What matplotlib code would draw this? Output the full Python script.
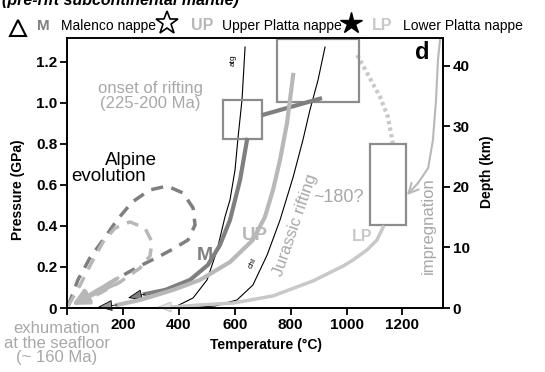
import numpy as np
import matplotlib.pyplot as plt

plt.rcParams['font.family'] = ['Liberation Sans', 'DejaVu Sans']

# P-T paths, temperature in degC, pressure in GPa
atg_T = [379, 451, 501, 537, 565, 583, 601, 612, 626, 637]
atg_P = [0.0, 0.049, 0.137, 0.283, 0.444, 0.527, 0.673, 0.834, 1.015, 1.273]
chl_T = [422, 530, 608, 665, 716, 762, 809, 844, 869, 898, 923]
chl_P = [0.0, 0.01, 0.039, 0.112, 0.259, 0.429, 0.639, 0.820, 0.966, 1.112, 1.273]

m_link_T = [912, 698]
m_link_P = [1.024, 0.941]
m_T = [644, 619, 583, 547, 504, 440, 351, 279, 218]
m_P = [0.820, 0.624, 0.429, 0.307, 0.210, 0.137, 0.088, 0.068, 0.049]

up_T = [809, 787, 762, 737, 708, 665, 583, 476, 379, 261, 179, 111]
up_P = [1.137, 0.902, 0.722, 0.576, 0.444, 0.332, 0.224, 0.137, 0.088, 0.039, 0.015, 0.005]

lp_T = [1131, 1109, 1073, 1023, 988, 880, 737, 594, 476, 379, 322]
lp_P = [0.395, 0.332, 0.283, 0.234, 0.205, 0.132, 0.059, 0.024, 0.015, 0.005, 0.005]

dot_T = [1038, 1077, 1120, 1148, 1166]
dot_P = [1.234, 1.137, 1.029, 0.932, 0.800]

imp_T = [1335, 1327, 1320, 1309, 1292, 1256, 1216]
imp_P = [1.317, 1.21, 1.015, 0.820, 0.683, 0.610, 0.551]

alp1_T = [4, 39, 82, 129, 179, 233, 297, 358, 415, 451, 458, 433, 386, 333, 261, 182, 100, 18]
alp1_P = [0.010, 0.137, 0.244, 0.332, 0.429, 0.517, 0.576, 0.595, 0.561, 0.488, 0.405,
          0.332, 0.293, 0.254, 0.205, 0.146, 0.078, 0.015]
alp2_T = [4, 47, 89, 129, 172, 225, 279, 304, 297, 261, 190, 100, 18]
alp2_P = [0.010, 0.112, 0.224, 0.322, 0.390, 0.420, 0.390, 0.322, 0.254, 0.195, 0.127, 0.059, 0.015]

# boxes: (Tmin, Pmin, Tmax, Pmax)
boxes = [(558, 0.824, 698, 1.015), (751, 1.005, 1045, 1.312), (1084, 0.405, 1213, 0.80)]

xticks = [0, 200, 400, 600, 800, 1000, 1200]
xticklabels = ['', '200', '400', '600', '800', '1000', '1200']
yticks = [0, 0.2, 0.4, 0.6, 0.8, 1.0, 1.2]
yticklabels = ['0', '0.2', '0.4', '0.6', '0.8', '1.0', '1.2']
dticks = [0, 10, 20, 30, 40]

P_top = 1.317
D_top = 44.6

dark = '#7f7f7f'
light = '#b8b8b8'
lighter = '#c8c8c8'
txtgray = '#a8a8a8'

fig = plt.figure(figsize=(5.45, 3.72), dpi=100)
ax = fig.add_axes([67/545, 64/372, 376/545, 270/372])
ax.set_xlim(0, 1345)
ax.set_ylim(0, P_top)

# reaction curves
ax.plot(atg_T, atg_P, color='k', lw=0.8, zorder=4)
ax.plot(chl_T, chl_P, color='k', lw=0.8, zorder=4)
ax.text(594, 1.21, 'atg', rotation=90, fontsize=6, ha='center', va='center')
ax.text(665, 0.22, 'chl', rotation=65, fontsize=6, ha='center', va='center')

# boxes
for t0, p0, t1, p1 in boxes:
    ax.add_patch(plt.Rectangle((t0, p0), t1 - t0, p1 - p0, fill=False,
                               edgecolor='#8c8c8c', lw=1.6, zorder=5))

# Alpine evolution loops
ax.plot(alp1_T[:-1], alp1_P[:-1], color=dark, lw=2.5, ls=(0, (3.5, 2.5)), zorder=3)
ax.plot(alp2_T[:-1], alp2_P[:-1], color=light, lw=2.5, ls=(0, (3.5, 2.5)), zorder=3)
ax.annotate('', xy=(alp1_T[-1], alp1_P[-1]), xytext=(alp1_T[-3], alp1_P[-3]),
            arrowprops=dict(arrowstyle='-|>,head_length=1.0,head_width=0.45',
                            color=light, lw=2.5, shrinkA=0, shrinkB=0), zorder=3)
ax.annotate('', xy=(alp2_T[-1], alp2_P[-1]), xytext=(alp2_T[-3], alp2_P[-3]),
            arrowprops=dict(arrowstyle='-|>,head_length=1.0,head_width=0.45',
                            color=light, lw=2.5, shrinkA=0, shrinkB=0), zorder=3)

# M path
ax.plot(m_link_T, m_link_P, color=dark, lw=3, solid_capstyle='butt', zorder=6)
ax.plot(m_T[:-1], m_P[:-1], color=dark, lw=3, zorder=6)
ax.annotate('', xy=(m_T[-1], m_P[-1]), xytext=(m_T[-2], m_P[-2]),
            arrowprops=dict(arrowstyle='-|>,head_length=0.9,head_width=0.35',
                            fc=dark, ec='k', lw=0.6, shrinkA=0, shrinkB=0), zorder=6)

# UP path
ax.plot(up_T[:-1], up_P[:-1], color=light, lw=3, zorder=6)
ax.annotate('', xy=(up_T[-1], up_P[-1]), xytext=(up_T[-2], up_P[-2]),
            arrowprops=dict(arrowstyle='-|>,head_length=0.9,head_width=0.35',
                            fc='#999999', ec='k', lw=0.6, shrinkA=0, shrinkB=0), zorder=6)

# LP path
ax.plot(lp_T[:-1], lp_P[:-1], color=lighter, lw=2.5, zorder=6)
ax.annotate('', xy=(lp_T[-1], lp_P[-1]), xytext=(lp_T[-2], lp_P[-2]),
            arrowprops=dict(arrowstyle='-|>,head_length=0.9,head_width=0.35',
                            fc='#e6e6e6', ec=lighter, lw=0.8, shrinkA=0, shrinkB=0), zorder=6)

# dotted link and impregnation arrow
ax.plot(dot_T, dot_P, color=lighter, lw=3, ls=(0, (0.8, 0.8)), zorder=4)
ax.plot(imp_T[:-1], imp_P[:-1], color=light, lw=1.5, zorder=4)
ax.annotate('', xy=(imp_T[-1], imp_P[-1]), xytext=(imp_T[-2], imp_P[-2]),
            arrowprops=dict(arrowstyle='->,head_length=0.7,head_width=0.35',
                            color=light, lw=1.5, shrinkA=0, shrinkB=0), zorder=4)

# labels in the plot
ax.text(297, 1.034, 'onset of rifting\n(225-200 Ma)', color=txtgray, fontsize=12,
        ha='center', va='center', linespacing=1.0)
ax.text(229, 0.72, 'Alpine', fontsize=13.5, ha='center', va='center')
ax.text(150, 0.64, 'evolution', fontsize=13.5, ha='center', va='center')
ax.text(494, 0.258, 'M', color=dark, fontsize=14, fontweight='bold', ha='center', va='center')
ax.text(673, 0.356, 'UP', color=light, fontsize=13.5, fontweight='bold', ha='center', va='center')
ax.text(1055, 0.351, 'LP', color=lighter, fontsize=11.5, fontweight='bold', ha='center', va='center')
ax.text(816, 0.405, 'Jurassic rifting', color=txtgray, fontsize=12, rotation=71,
        ha='center', va='center')
ax.text(973, 0.541, '~180?', color=txtgray, fontsize=13, ha='center', va='center')
ax.text(1292, 0.40, 'impregnation', color=txtgray, fontsize=12, rotation=90,
        ha='center', va='center')
ax.text(1270, 1.245, 'd', fontsize=17, fontweight='bold', ha='center', va='center')

# axes styling
ax.set_xticks(xticks)
ax.set_xticklabels(xticklabels, fontsize=11, fontweight='bold')
ax.set_yticks(yticks)
ax.set_yticklabels(yticklabels, fontsize=11, fontweight='bold')
ax.tick_params(direction='out', length=5, width=1.3, pad=2)
for s in ax.spines.values():
    s.set_linewidth(1.3)
    s.set_color('#222222')
ax.spines['top'].set_color('#555555')

ax2 = ax.twinx()
ax2.set_ylim(0, D_top)
ax2.set_yticks(dticks)
ax2.set_yticklabels([str(d) for d in dticks], fontsize=11, fontweight='bold')
ax2.tick_params(direction='out', length=5, width=1.3, pad=2)
for s in ax2.spines.values():
    s.set_linewidth(1.3)

fig.text(266/545, 1 - 345/372, 'Temperature (°C)', fontsize=10, fontweight='bold',
         ha='center', va='center')
fig.text(18/545, 1 - 190/372, 'Pressure (GPa)', fontsize=10, fontweight='bold',
         ha='center', va='center', rotation=90)
fig.text(487/545, 1 - 172/372, 'Depth (km)', fontsize=10, fontweight='bold',
         ha='center', va='center', rotation=90)
fig.text(57/545, 1 - 343/372, 'exhumation\nat the seafloor\n(~ 160 Ma)', color=txtgray,
         fontsize=12, ha='center', va='center', linespacing=0.95)

# title (cut at the top edge as in the source) and legend row
fig.text(2/545, 1 - 5/372, '(pre-rift subcontinental mantle)', fontsize=11.5,
         fontweight='bold', style='italic', ha='left', va='baseline')
fig.lines.append(plt.Line2D([18/545], [1 - 28/372], marker='^', markersize=12,
                            markerfacecolor='white', markeredgecolor='k', mew=1.5,
                            transform=fig.transFigure))
fig.text(43/545, 1 - 26/372, 'M', color=dark, fontsize=11, fontweight='bold', ha='center', va='center')
fig.text(61/545, 1 - 26/372, 'Malenco nappe', fontsize=10, ha='left', va='center')
fig.lines.append(plt.Line2D([167/545], [1 - 23/372], marker='*', markersize=17,
                            markerfacecolor='white', markeredgecolor='k', mew=1.2,
                            transform=fig.transFigure))
fig.text(202/545, 1 - 26/372, 'UP', color=light, fontsize=11.5, fontweight='bold', ha='center', va='center')
fig.text(222/545, 1 - 26/372, 'Upper Platta nappe', fontsize=10, ha='left', va='center')
fig.lines.append(plt.Line2D([351/545], [1 - 23/372], marker='*', markersize=16,
                            markerfacecolor='k', markeredgecolor='k',
                            transform=fig.transFigure))
fig.text(382/545, 1 - 26/372, 'LP', color=lighter, fontsize=11.5, fontweight='bold', ha='center', va='center')
fig.text(403/545, 1 - 26/372, 'Lower Platta nappe', fontsize=10, ha='left', va='center')

fig.savefig('out.png', dpi=100)
